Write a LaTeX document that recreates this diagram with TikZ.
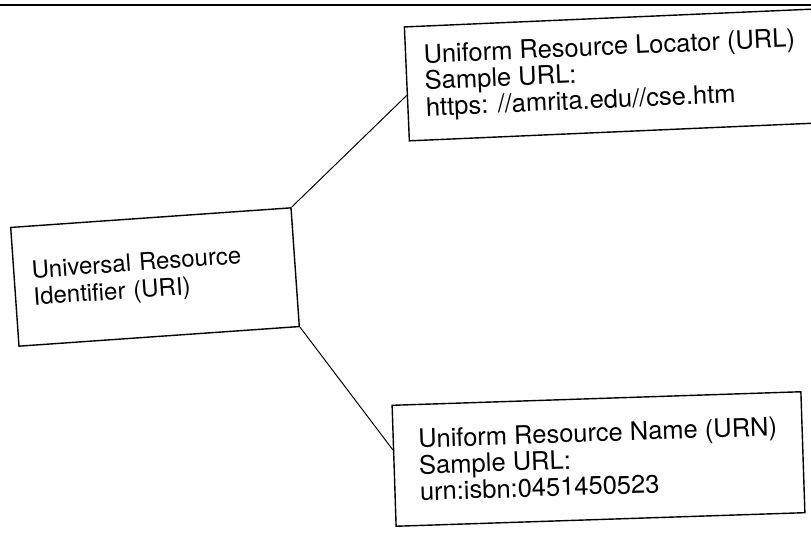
\documentclass[tikz,border=0pt]{standalone}
\usepackage{fontspec}
\setmainfont{TeX Gyre Heros}
\usetikzlibrary{calc}

\begin{document}
\begin{tikzpicture}[x=1pt,y=-1pt,
  uribox/.style={draw,line width=1.4pt,align=left,inner xsep=18pt,
    font=\fontsize{25.5}{26.5}\selectfont},
  link/.style={line width=1pt}]
  \useasboundingbox (0,0) rectangle (811,533);
  \coordinate (rule west) at (0,5);
  \coordinate (rule east) at (811,5);
  \draw[line width=1.6pt] (rule west) -- (rule east);
  \node (uri) [uribox,rotate=4,text width=245pt,minimum height=119pt,
    font=\fontsize{24}{27}\selectfont] at (155,277)
    {Universal Resource\\Identifier (URI)};
  \node (url) [uribox,rotate=2.5,minimum width=401pt,minimum height=114pt] at (610.5,75)
    {Uniform Resource Locator (URL)\\Sample URL:\\https: //amrita.edu//cse.htm};
  \node (urn) [uribox,rotate=1.9,minimum width=409pt,minimum height=121pt] at (598.5,459)
    {Uniform Resource Name (URN)\\Sample URL:\\urn:isbn:0451450523};
  \draw[link] (uri.north east) -- ($(url.north west)!0.6!(url.south west)$);
  \draw[link] (uri.south east) -- ($(urn.north west)!0.37!(urn.south west)$);
\end{tikzpicture}
\end{document}
